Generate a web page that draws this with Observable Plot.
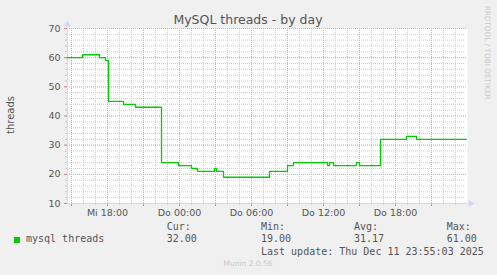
<!DOCTYPE html>
<html>
<head>
<meta charset="utf-8">
<script src="https://cdn.jsdelivr.net/npm/d3@7"></script>
<script src="https://cdn.jsdelivr.net/npm/@observablehq/plot@0.6"></script>
<style>
  html, body { margin: 0; padding: 0; background: #f0f0f0; }
  #wrap { position: relative; width: 497px; height: 275px; overflow: hidden; background: #f0f0f0; }
  #wrap svg { position: absolute; left: 0; top: 0; }
  .t { position: absolute; white-space: pre; line-height: 1; }
  .sans { font-family: "DejaVu Sans", sans-serif; }
  .mono { font-family: "DejaVu Sans Mono", monospace; font-size: 10px; color: #555; }
</style>
</head>
<body>
<div id="wrap"></div>
<script>
// ---- data ----
const changeTimes = ["12-10 14:40","12-10 15:55","12-10 17:20","12-10 17:50","12-10 18:05","12-10 19:20",
  "12-10 20:20","12-10 22:30","12-10 23:55","12-11 01:00","12-11 01:30","12-11 02:55","12-11 03:05",
  "12-11 03:40","12-11 07:30","12-11 09:00","12-11 09:30","12-11 12:20","12-11 12:30","12-11 12:50",
  "12-11 14:45","12-11 15:00","12-11 16:45","12-11 18:55","12-11 19:45","12-11 23:55"];
const threadValues = [60,61,60,59,45,44,43,24,23,22,21,22,21,19,21,23,24,23,24,23,24,23,32,33,32,32];
const xTickTimes = ["12-10 18:00","12-11 00:00","12-11 06:00","12-11 12:00","12-11 18:00"];
const xTickLabels = ["Mi 18:00","Do 00:00","Do 06:00","Do 12:00","Do 18:00"];
const yTicks = [10,20,30,40,50,60,70];
const legendName = "mysql threads";
const statLabels = ["Cur:","Min:","Avg:","Max:"];
const statValues = ["32.00","19.00","31.17","61.00"];
const titleText = "MySQL threads - by day";
const yLabel = "threads";
const lastUpdate = "Last update: Thu Dec 11 23:55:03 2025";
const footer = "Munin 2.0.56";
const sideText = "RRDTOOL / TOBI OETIKER";

const parse = s => {
  const [md, hm] = s.split(" ");
  const [mo, d] = md.split("-").map(Number);
  const [h, mi] = hm.split(":").map(Number);
  return new Date(2025, mo - 1, d, h, mi);
};
const data = changeTimes.map((t, i) => ({t: parse(t), v: threadValues[i]}));
const xStart = new Date(2025, 11, 10, 14, 40);
const xEnd = new Date(2025, 11, 12, 0, 0);
const minorX = d3.timeHour.range(xStart, xEnd);
const majorX = d3.timeHour.every(3).range(xStart, xEnd);
const labelTimes = xTickTimes.map(parse);
const labelMap = new Map(labelTimes.map((d, i) => [+d, xTickLabels[i]]));
const minorY = d3.range(yTicks[0], yTicks[yTicks.length - 1] + 1, 2);

const axisBlue = "#CFD6F8";
const minorCol = "#cdcdcd";
const majorCol = "#e9a4a4";

const chart = Plot.plot({
  width: 497,
  height: 275,
  marginLeft: 67,
  marginRight: 30,
  marginTop: 28,
  marginBottom: 72,
  style: {background: "transparent", fontFamily: "DejaVu Sans", overflow: "visible"},
  x: {type: "time", domain: [xStart, xEnd], axis: null},
  y: {domain: [yTicks[0], yTicks[yTicks.length - 1]], axis: null},
  marks: [
    Plot.frame({fill: "white", stroke: "none"}),
    Plot.ruleY(minorY, {stroke: minorCol, strokeDasharray: "1,1", dx: -2}),
    Plot.ruleX(minorX, {stroke: minorCol, strokeDasharray: "1,1"}),
    Plot.ruleY(yTicks, {stroke: majorCol, strokeDasharray: "1,1"}),
    Plot.ruleX(majorX, {stroke: majorCol, strokeDasharray: "1,1"}),
    Plot.axisX({ticks: minorX, tickSize: 2, stroke: minorCol, tickFormat: () => "", label: null}),
    Plot.axisX({ticks: majorX, tickSize: 3, stroke: "#e08080", tickFormat: () => "", label: null}),
    Plot.axisY({ticks: minorY, tickSize: 2, stroke: minorCol, tickFormat: () => "", label: null}),
    Plot.axisY({ticks: yTicks, tickSize: 3, stroke: "#e08080", tickFormat: () => "", label: null}),
    Plot.ruleX([xStart], {stroke: axisBlue, y1: yTicks[0], y2: yTicks[yTicks.length - 1]}),
    Plot.ruleY([yTicks[0]], {stroke: axisBlue}),
    Plot.dot([xStart], {x: d => d, y: () => yTicks[yTicks.length - 1], symbol: "triangle", r: 2.6, fill: axisBlue, stroke: "none", dy: -4}),
    Plot.dot([xEnd], {x: d => d, y: () => yTicks[0], symbol: "triangle", r: 2.6, fill: axisBlue, stroke: "none", rotate: 90, dx: 3}),
    Plot.line(data, {x: "t", y: "v", curve: "step-after", stroke: "#00cc00", strokeWidth: 1.3}),
    Plot.axisY({ticks: yTicks, tickSize: 0, tickPadding: 7, fontSize: 9.5, fill: "#555", label: null}),
    Plot.axisX({ticks: labelTimes, tickSize: 0, tickPadding: 6, fontSize: 9.5, fill: "#555",
      tickFormat: d => labelMap.get(+d), label: null})
  ]
});
const wrap = document.getElementById("wrap");
wrap.appendChild(chart);

function addText(txt, cls, css) {
  const el = document.createElement("div");
  el.className = "t " + cls;
  el.textContent = txt;
  Object.assign(el.style, css);
  wrap.appendChild(el);
  return el;
}
// title
addText(titleText, "sans", {left: "98px", width: "300px", textAlign: "center", top: "14px", fontSize: "12.5px", color: "#555"});
// y label
addText(yLabel, "sans", {left: "-39px", width: "100px", textAlign: "center", top: "110px", fontSize: "10px", color: "#555", transform: "rotate(-90deg)"});
// side text
addText(sideText, "sans", {left: "437px", width: "100px", textAlign: "center", top: "49px", fontSize: "7.3px", color: "#cccccc", transform: "rotate(90deg)"});
// legend swatch
const sw = document.createElement("div");
Object.assign(sw.style, {position: "absolute", left: "14px", top: "237px", width: "6px", height: "6px", background: "#00cc00"});
wrap.appendChild(sw);
addText(legendName, "mono", {left: "26px", top: "234.3px"});
const statX = [166.7, 261, 354, 446.7];
statLabels.forEach((s, i) => {
  addText(s, "mono", {left: statX[i] + "px", top: "222.2px"});
  addText(statValues[i], "mono", {left: statX[i] + "px", top: "234.3px"});
});
addText(lastUpdate, "mono", {left: "261px", top: "247px"});
addText(footer, "sans", {left: "148px", width: "200px", textAlign: "center", top: "260.3px", fontSize: "7.5px", color: "#c8c8c8"});
</script>
</body>
</html>
